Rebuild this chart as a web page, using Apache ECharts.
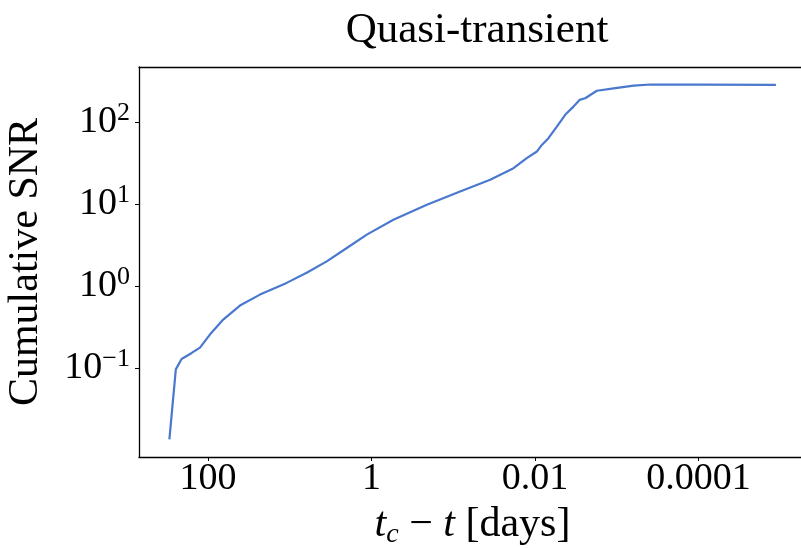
<!DOCTYPE html>
<html>
<head>
<meta charset="utf-8">
<script src="https://cdn.jsdelivr.net/npm/echarts@6/dist/echarts.min.js"></script>
<style>
  html, body { margin: 0; padding: 0; background: #fff; overflow: hidden; }
  /* a bit wider than the window: the frame's right edge falls just outside the picture */
  #chart { width: 812px; height: 548px; }
</style>
</head>
<body>
<div id="chart"></div>
<script>
// time to coalescence (days) and cumulative SNR
const tDays = [296, 247, 210, 158, 125, 94.6, 65.0, 40.6, 23.1, 10.9, 6.20, 3.52, 2.00, 1.14,
  0.539, 0.210, 0.0824, 0.0353, 0.0183, 0.0126, 0.00948, 0.00824, 0.00684, 0.00540,
  0.00427, 0.00338, 0.00285, 0.00243, 0.00175, 0.00109, 0.000622, 0.000389, 0.000095, 0.0000113];
const snr = [0.0136, 0.097, 0.130, 0.154, 0.179, 0.258, 0.393, 0.582, 0.792, 1.10, 1.46, 2.01, 2.93, 4.26,
  6.48, 9.86, 14.3, 19.9, 27.5, 36.5, 43.9, 52.9, 63.9, 88.3,
  123, 155, 187, 196, 242, 259, 279, 288, 287, 285];

const xTicks = [100, 1, 0.01, 0.0001];
const yTicks = [0.1, 1, 10, 100];

const serif = '"Liberation Serif", "DejaVu Serif", serif';
const xMin = Math.pow(10, -5.315), xMax = Math.pow(10, 2.843);

const chart = echarts.init(document.getElementById('chart'), null, { renderer: 'canvas' });

const supText = v => {
  const e = Math.round(Math.log10(v));
  return '{b|10}{s|' + (e < 0 ? '\u2212' + (-e) : e) + '}';
};

chart.setOption({
  animation: false,
  backgroundColor: '#fff',
  title: {
    text: 'Quasi-transient',
    left: 472,
    top: 4,
    textAlign: 'center',
    textStyle: { fontFamily: serif, fontSize: 43, fontWeight: 'normal', color: '#000' }
  },
  grid: {
    left: 139, top: 67, width: 667, height: 390,
    outerBoundsMode: 'none'
  },
  xAxis: [{
    type: 'log',
    inverse: true,
    min: xMin,
    max: xMax,
    name: '{i|t}{sub|c}{n| \u2212 }{i|t}{n| [days]}',
    nameLocation: 'middle',
    nameGap: 44,
    nameTextStyle: {
      rich: {
        i: { fontFamily: serif, fontSize: 42, fontStyle: 'italic', color: '#000', lineHeight: 48 },
        sub: { fontFamily: serif, fontSize: 28, fontStyle: 'italic', color: '#000', verticalAlign: 'bottom', lineHeight: 28 },
        n: { fontFamily: serif, fontSize: 42, color: '#000', lineHeight: 48 }
      }
    },
    axisLine: { show: true, lineStyle: { color: '#000', width: 1.3 } },
    axisTick: { show: true, inside: false, length: 4, lineStyle: { color: '#000', width: 1 }, customValues: xTicks },
    minorTick: { show: false },
    splitLine: { show: false },
    axisLabel: {
      customValues: xTicks,
      margin: 3,
      fontFamily: serif, fontSize: 38, color: '#000',
      formatter: v => String(+v.toPrecision(6))
    }
  }, {
    // top frame line only
    type: 'log',
    position: 'top',
    inverse: true,
    min: xMin,
    max: xMax,
    axisLine: { show: true, lineStyle: { color: '#000', width: 1.3 } },
    axisTick: { show: false },
    axisLabel: { show: false },
    splitLine: { show: false }
  }],
  yAxis: {
    type: 'log',
    min: Math.pow(10, -2.081),
    max: Math.pow(10, 2.673),
    name: 'Cumulative SNR',
    nameLocation: 'middle',
    nameGap: 92,
    nameTextStyle: { fontFamily: serif, fontSize: 42, color: '#000' },
    axisLine: { show: true, lineStyle: { color: '#000', width: 1.3 } },
    axisTick: { show: true, inside: false, length: 4, lineStyle: { color: '#000', width: 1 }, customValues: yTicks },
    minorTick: { show: false },
    splitLine: { show: false },
    axisLabel: {
      customValues: yTicks,
      margin: 9,
      formatter: supText,
      rich: {
        b: { fontFamily: serif, fontSize: 38, color: '#000', lineHeight: 44 },
        s: { fontFamily: serif, fontSize: 26, color: '#000', verticalAlign: 'top', lineHeight: 30 }
      }
    }
  },
  series: [{
    type: 'line',
    xAxisIndex: 0,
    data: tDays.map((t, i) => [t, snr[i]]),
    showSymbol: false,
    smooth: false,
    lineStyle: { color: '#4a78cf', width: 2.2 }
  }]
});
</script>
</body>
</html>
